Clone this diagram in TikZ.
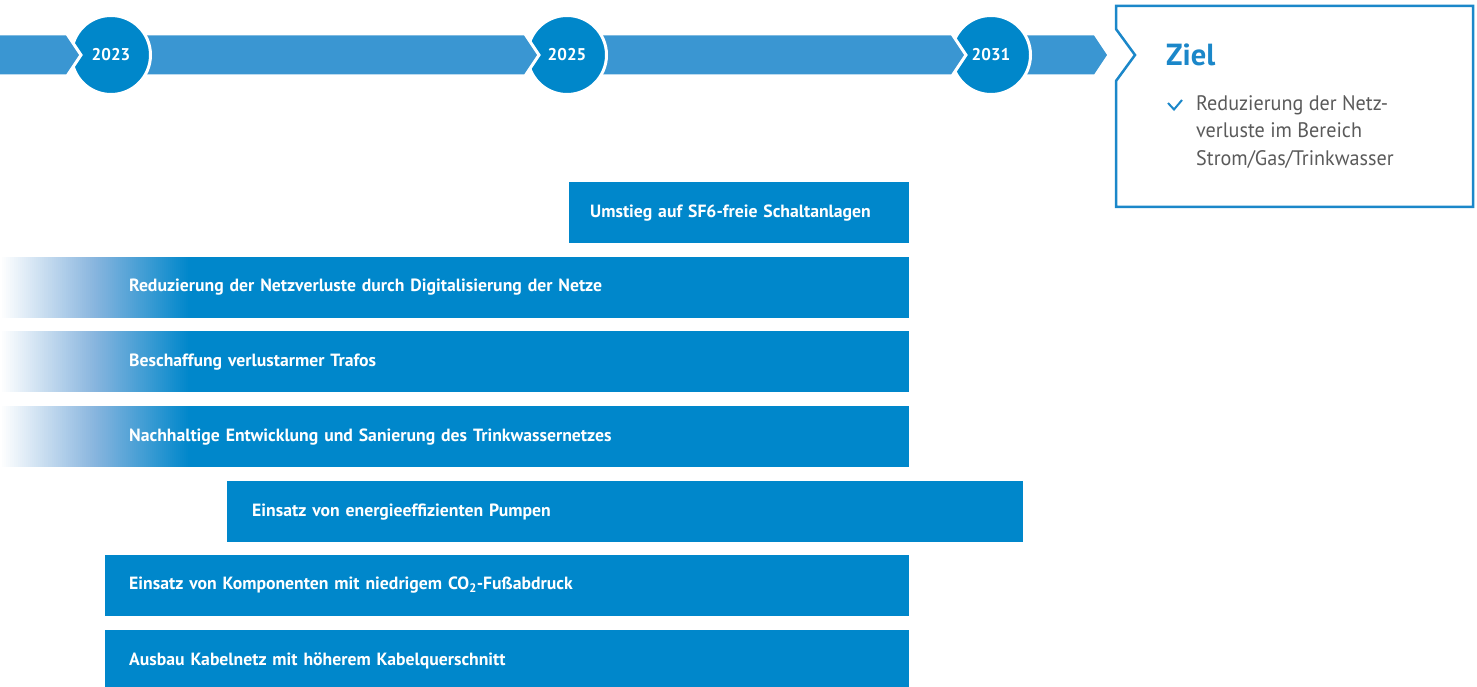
\documentclass[tikz,border=0pt]{standalone}
\usepackage{fontspec}
\setmainfont{PT Sans}
\newfontfamily\cond{PT Sans}
\newfontfamily\condlight[FakeStretch=0.96]{PT Sans}
\definecolor{bandblue}{HTML}{3A96D2}
\definecolor{circblue}{HTML}{0087CA}
\definecolor{barblue}{HTML}{0087CB}
\definecolor{gradmid}{HTML}{88B5DE}
\definecolor{zielblue}{HTML}{1B87C9}
\definecolor{goalgray}{HTML}{5A5A5A}
\tikzset{
  band/.style={fill=bandblue, draw=white, line width=3pt, line join=miter},
  yearc/.style={circle, fill=circblue, draw=white, line width=3pt, minimum size=79pt, inner sep=0pt,
    text=white, font=\cond\bfseries\fontsize{17}{20}\selectfont},
  bar/.style={anchor=north west, fill=barblue, minimum height=61pt, inner ysep=0pt,
    text=white, font=\cond\bfseries\fontsize{17.7}{21}\selectfont, align=left},
  fadebar/.style={bar, fill=none},
}
\begin{document}
\begin{tikzpicture}[x=1pt,y=-1pt]
\useasboundingbox (0,0) rectangle (1477,687);
% timeline (drawn back to front)
\draw[band] (1020,34) -- (1095,34) -- (1109,55) -- (1095,76) -- (1020,76) -- cycle;
\node[yearc] (c31) at (991,55) {2031};
\draw[band] (600,34) -- (952,34) -- (966,55) -- (952,76) -- (600,76) -- cycle;
\node[yearc] (c25) at (567,55) {2025};
\draw[band] (140,34) -- (525,34) -- (539,55) -- (525,76) -- (140,76) -- cycle;
\node[yearc] (c23) at (111,55) {2023};
\draw[band] (-5,34) -- (67,34) -- (81,55) -- (67,76) -- (-5,76) -- cycle;
% goal box
\draw[zielblue, line width=2.5pt] (1116,6) -- (1473,6) -- (1473,207) -- (1116,207) -- (1116,81) -- (1135,55) -- (1116,29) -- cycle;
\node[anchor=base west, inner sep=0pt, text=zielblue, font=\cond\bfseries\fontsize{30.5}{34}\selectfont] (ziel) at (1166,66) {Ziel};
\draw[zielblue, line width=2pt] (1168,103) -- (1174,109.5) -- (1182,100);
\node[anchor=north west, inner sep=0pt, align=left, text=goalgray, font=\condlight\fontsize{21}{27.5}\selectfont] (goal) at (1196,95)
  {Reduzierung der Netz-\\verluste im Bereich\\Strom/Gas/Trinkwasser};
% fading backgrounds of the three long bars
\foreach \yt in {256.5,331,406}{
  \foreach \i in {0,...,94}{
    \pgfmathsetmacro\pa{min(100,\i*2.12766)}
    \pgfmathsetmacro\pb{max(0,\i*2.12766-100)}
    \ifdim\pb pt>0pt \colorlet{fc}{barblue!\pb!gradmid}\else\colorlet{fc}{gradmid!\pa!white}\fi
    \fill[fc] (\i*2,\yt) rectangle (\i*2+2.6,\yt+61);
  }
  \fill[barblue] (190,\yt) rectangle (909,\yt+61);
}
% measures
\node[bar, inner xsep=21pt, text width=298pt] (b1) at (569,182) {Umstieg auf SF6-freie Schaltanlagen};
\node[fadebar, inner xsep=129pt, text width=651pt] (b2) at (0,256.5) {Reduzierung der Netzverluste durch Digitalisierung der Netze};
\node[fadebar, inner xsep=129pt, text width=651pt] (b3) at (0,331) {Beschaffung verlustarmer Trafos};
\node[fadebar, inner xsep=129pt, text width=651pt] (b4) at (0,406) {Nachhaltige Entwicklung und Sanierung des Trinkwassernetzes};
\node[bar, inner xsep=25pt, text width=746pt] (b5) at (227,481) {Einsatz von energieeffizienten Pumpen};
\node[bar, inner xsep=24pt, text width=756pt] (b6) at (105,554.5) {Einsatz von Komponenten mit niedrigem CO\textsubscript{2}-Fußabdruck};
\node[bar, inner xsep=24pt, text width=756pt] (b7) at (105,630) {Ausbau Kabelnetz mit höherem Kabelquerschnitt};
\end{tikzpicture}
\end{document}
